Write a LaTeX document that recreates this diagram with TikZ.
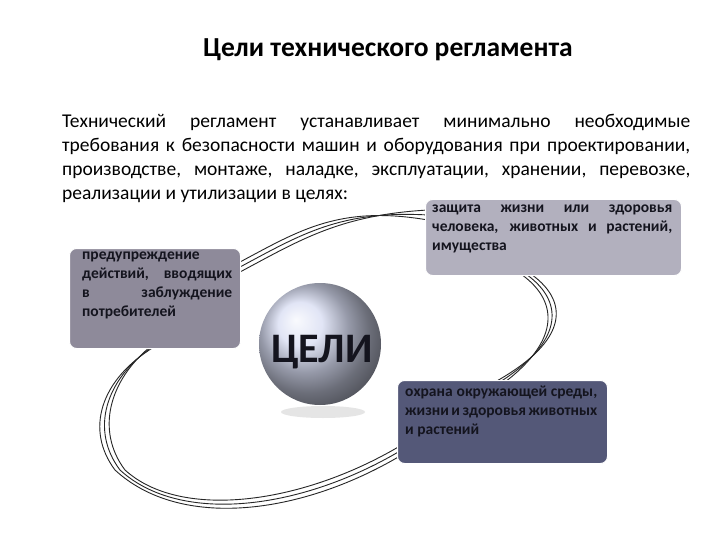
\documentclass[tikz,border=0pt]{standalone}
\usepackage{fontspec}
\setmainfont{Carlito}
\begin{document}
\begin{tikzpicture}[x=1pt,y=-1pt]
\definecolor{boxa}{RGB}{178,176,190}
\definecolor{boxb}{RGB}{142,138,154}
\definecolor{boxc}{RGB}{84,88,120}
\definecolor{txt}{RGB}{20,20,30}
\tikzset{gbox/.style={rounded corners=7pt,draw=white,line width=1pt,anchor=north west},
 btext/.style={font=\bfseries\fontsize{15.5}{19}\selectfont,text=txt,align=justify,anchor=north west,inner sep=0pt},
 strand/.style={draw=black!85,line width=0.9pt}}
\useasboundingbox (0,0) rectangle (720,540);
\fill[white] (0,0) rectangle (720,540);
\node[font=\bfseries\fontsize{27.5}{30}\selectfont] (title) at (388,50) {Цели технического регламента};
\node[anchor=north west,text width=628pt,align=justify,inner sep=0pt,font=\fontsize{19.5}{24}\selectfont] (para) at (62,114)
 {Технический регламент устанавливает минимально необходимые требования к безопасности машин и оборудования при проектировании, производстве, монтаже, наладке, эксплуатации, хранении, перевозке, реализации и утилизации в целях:};
% strands
\foreach \d in {0,5,10}{
 \draw[strand] (240,272-\d) .. controls (300,240-\d) and (340,215-\d) .. (428,210+\d);
 \draw[strand] (518+\d,272) .. controls (560+\d,300) and (560+\d,340) .. (505-\d,382);
 \draw[strand] (400,446+\d) .. controls (300,505+\d) and (180,520+\d) .. (125-\d,470) .. controls (95-\d,430) and (110-\d,380) .. (150+\d*0.4,347);
}
\node[gbox,fill=boxa,minimum width=256pt,minimum height=76pt] (b1) at (425,199) {};
\node[gbox,fill=boxb,minimum width=171pt,minimum height=100pt] (b2) at (69,248) {};
\node[gbox,fill=boxc,minimum width=210pt,minimum height=83pt] (b3) at (397,380) {};
\node[btext,text width=240pt] (t1) at (432,205) {защита жизни или здоровья человека, животных и растений, имущества};
\node[btext,text width=150pt] (t2) at (82,252) {предупреждение действий, вводящих в\hfill заблуждение потребителей};
\node[btext,text width=192pt] (t3) at (405,386) {охрана\hfill окружающей среды, жизни и здоровья животных и растений};
\fill[black!10] (323,412) ellipse (42pt and 6pt);
\shade[ball color={rgb,255:red,215;green,220;blue,242}] (320,344) circle (61pt);
\node[font=\bfseries\fontsize{42}{46}\selectfont,text=txt] (c) at (322,352) {ЦЕЛИ};
\end{tikzpicture}
\end{document}
